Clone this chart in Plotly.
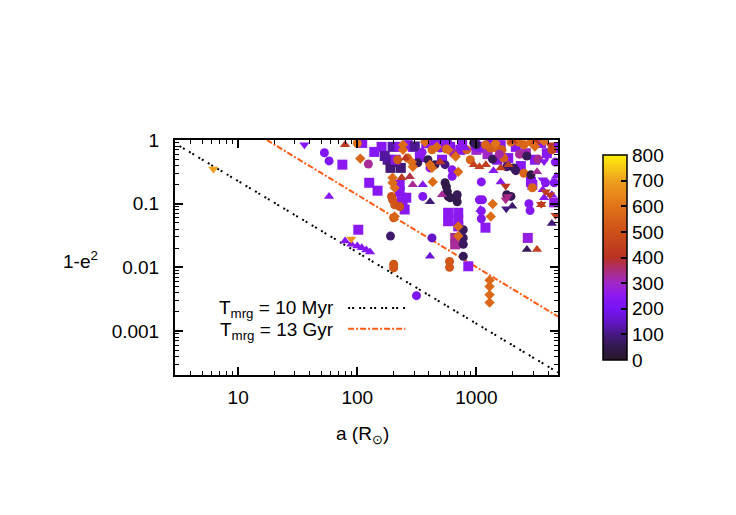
import plotly.graph_objects as go

# ---------------- data ----------------
# squares
sq_a = [110, 139, 160, 180, 194, 198, 227, 265, 293, 304, 380, 477, 126, 148, 227, 227, 236, 240, 250, 258,
        232, 190, 579, 579, 704, 704, 704, 664, 664, 855, 102, 75, 1000, 1140, 981, 1081, 1598, 2142, 3100,
        2870, 2950, 1192, 2700, 4500, 4672, 1500, 1850, 2361, 515, 602, 732, 335, 210, 760, 1314, 3486,
        420, 560, 2600, 3900, 170, 1240]
sq_y = [0.9, 0.65, 0.78, 0.49, 0.45, 0.78, 0.78, 0.83, 0.78, 0.79, 0.89, 0.97, 0.213, 0.16, 0.198, 0.154, 0.124,
        0.107, 0.081, 0.124, 0.365, 0.365, 0.072, 0.053, 0.072, 0.056, 0.044, 0.029, 0.023, 0.0104, 0.039, 0.41,
        0.70, 0.75, 0.83, 0.78, 0.83, 0.78, 0.49, 0.22, 0.198, 0.042, 0.029, 0.105, 0.75, 0.49, 0.52, 0.39, 0.49,
        0.78, 0.70, 0.54, 0.49, 0.93, 0.93, 0.9,
        0.97, 0.95, 0.62, 0.62, 0.56, 0.6]
sq_c = [240, 230, 240, 120, 110, 130, 240, 250, 240, 110, 240, 250, 240, 240, 240, 240, 240, 250, 240, 240,
        90, 90, 250, 250, 250, 250, 250, 330, 330, 250, 250, 250, 300, 300, 240, 240, 250, 240, 250,
        250, 250, 250, 270, 260, 250, 230, 240, 240, 240, 240, 240, 240, 240, 250, 240, 240,
        240, 250, 310, 240, 120, 300]

# circles
ci_a = [53, 58, 100, 124, 218, 265, 424, 496, 560, 449, 626, 626, 546, 560, 570, 579, 602, 680, 690, 690,
        355, 194, 198, 206, 202, 227, 190, 202, 202, 314, 424, 595, 595, 776, 776, 776, 776, 1100, 1100,
        1060, 1124, 1100, 2760, 2820, 3800, 4500, 950, 1000, 1314, 1480, 1640, 1694, 1950, 2271, 2503, 2870,
        1367, 1796, 2060, 2142, 2503, 2870, 2950, 1796, 1950, 4300, 4600, 1192, 830, 889, 322, 392, 408, 546,
        2300, 2650, 3300, 1560, 640, 350]
ci_y = [0.63, 0.47, 0.89, 0.42, 0.49, 0.52, 0.70, 0.75, 0.72, 0.41, 0.34, 0.27, 0.213, 0.185, 0.154, 0.13,
        0.124, 0.124, 0.107, 0.138, 0.13, 0.13, 0.115, 0.096, 0.06, 0.09, 0.031, 0.0112, 0.0098, 0.0036, 0.029,
        0.0124, 0.0100, 0.0149, 0.039, 0.029, 0.023, 0.058, 0.077, 0.115, 0.115, 0.22, 0.1, 0.078, 0.213,
        0.213, 0.9, 0.84, 0.75, 0.75, 0.70, 0.52, 0.93, 0.93, 0.84, 0.93, 0.5, 0.38, 0.365, 0.33, 0.3,
        0.284, 0.178, 0.138, 0.13, 0.70, 0.45, 0.84, 0.70, 0.49, 0.44, 0.49, 0.365, 0.41,
        0.6, 0.56, 0.5, 0.6, 0.62, 0.64]
ci_c = [220, 220, 600, 330, 520, 540, 560, 240, 570, 60, 240, 230, 50, 40, 50, 40, 50, 60, 50, 60,
        220, 500, 510, 520, 520, 500, 80, 520, 520, 220, 150, 520, 520, 60, 70, 70, 70, 230, 230,
        230, 230, 230, 230, 230, 230, 230, 60, 70, 540, 550, 530, 540, 580, 570, 560, 580,
        60, 80, 60, 70, 560, 40, 560, 50, 60, 470, 230, 560, 540, 560, 60, 60, 240, 100,
        330, 60, 340, 320, 330, 250]

# triangles (up)
tu_a = [79, 58, 79, 89, 100, 109, 119, 128, 255, 236, 276, 292, 355, 408, 515, 496, 408, 950, 1060, 1200,
        1390, 1598, 1860, 1080, 2000, 2654, 3227, 4300, 3227, 4672, 3600, 3700, 4300, 579, 807, 1598, 3500,
        2020, 3150]
tu_y = [0.84, 0.13, 0.026, 0.023, 0.0217, 0.0203, 0.0187, 0.0175, 0.52, 0.255, 0.265, 0.198, 0.198, 0.107,
        0.138, 0.45, 0.0149, 0.41, 0.38, 0.41, 0.33, 0.365, 0.41, 0.081, 0.091, 0.019, 0.019, 0.049, 0.316,
        0.27, 0.166, 0.124, 0.138, 0.97, 0.75, 0.22, 0.096, 0.96, 0.94]
tu_c = [420, 240, 230, 230, 230, 230, 230, 230, 420, 420, 380, 330, 230, 90, 330, 420, 170, 450, 450, 440,
        240, 450, 450, 230, 80, 60, 450, 90, 330, 240, 240, 240, 240, 240, 240, 240, 450,
        440, 430]

# triangles (down)
td_a = [6.2, 36, 89, 1780, 1760, 1830, 1760, 3500, 4620, 3800, 4150, 3900, 3700, 3600, 4150]
td_y = [0.35, 0.84, 0.028, 0.083, 0.115, 0.13, 0.19, 0.098, 0.066, 0.154, 0.138, 0.55, 0.46, 0.237, 0.84]
td_c = [700, 230, 680, 100, 340, 340, 420, 430, 450, 430, 420, 240, 240, 240, 430]

# diamonds
di_a = [106, 242, 242, 287, 293, 198, 198, 206, 408, 424, 430, 670, 704, 206, 704, 704, 1290, 1290, 1290,
        1290, 1320, 1370, 1449, 3100, 3700, 580, 465, 370]
di_y = [0.51, 0.84, 0.7, 0.45, 0.38, 0.255, 0.213, 0.178, 0.41, 0.365, 0.22, 0.55, 0.316, 0.063, 0.044,
        0.031, 0.0063, 0.005, 0.0037, 0.0028, 0.063, 0.099, 0.89, 0.79, 0.96, 0.70, 0.78, 0.93]
di_c = [560, 580, 580, 580, 580, 580, 580, 580, 580, 580, 580, 580, 570, 560, 570, 570, 570, 570, 570,
        570, 580, 580, 600, 580, 590, 580, 570, 580]

# merger-time lines (end points)
myr10_a = [3.22, 4840]
myr10_y = [0.805, 0.000224]
gyr13_a = [17.4, 4860]
gyr13_y = [1.0, 0.00168]

cbar_ticks = [0, 100, 200, 300, 400, 500, 600, 700, 800]
x_ticks = [10, 100, 1000]
y_ticks = [1, 0.1, 0.01, 0.001]
y_ticklabels = ["1", "0.1", "0.01", "0.001"]

# ---------------- figure ----------------
FONT = "Liberation Sans"
FS = 19
BLACK_DASH = "2px,2px,2px,5px"
ORANGE_DASH = "6px,2px,2px,2px"
ORANGE = "rgb(255,90,20)"
cscale = [
    [0.0, "rgb(40,25,40)"],
    [0.0625, "rgb(50,25,75)"],
    [0.125, "rgb(70,25,130)"],
    [0.1875, "rgb(100,20,200)"],
    [0.25, "rgb(120,20,245)"],
    [0.3125, "rgb(140,25,240)"],
    [0.375, "rgb(160,40,200)"],
    [0.4375, "rgb(172,45,120)"],
    [0.5, "rgb(185,50,35)"],
    [0.625, "rgb(205,80,25)"],
    [0.75, "rgb(225,115,25)"],
    [0.875, "rgb(238,160,30)"],
    [1.0, "rgb(255,240,10)"],
]

fig = go.Figure()

fig.add_trace(go.Scatter(x=myr10_a, y=myr10_y, mode="lines",
                         line=dict(color="black", width=2, dash=BLACK_DASH), showlegend=False))
fig.add_trace(go.Scatter(x=gyr13_a, y=gyr13_y, mode="lines",
                         line=dict(color=ORANGE, width=2, dash=ORANGE_DASH), showlegend=False))

for xs, ys, cs, sym, sz in [
    (sq_a, sq_y, sq_c, "square", 10),
    (ci_a, ci_y, ci_c, "circle", 9),
    (tu_a, tu_y, tu_c, "triangle-up", 9),
    (td_a, td_y, td_c, "triangle-down", 9),
    (di_a, di_y, di_c, "diamond", 8),
]:
    fig.add_trace(go.Scatter(x=xs, y=ys, mode="markers", showlegend=False,
                             marker=dict(symbol=sym, size=sz, color=cs, coloraxis="coloraxis",
                                         line=dict(width=0))))

minor_x = [v * 10 ** k for k in range(0, 4) for v in range(2, 10) if 2.9 < v * 10 ** k < 4900]
minor_y = [v * 10.0 ** k for k in range(-4, 0) for v in range(2, 10)]

axis_common = dict(showline=True, linewidth=2, linecolor="black", mirror="allticks", ticks="inside",
                   ticklen=8, tickwidth=1.5, tickcolor="black", showgrid=False, zeroline=False,
                   tickfont=dict(family=FONT, size=FS, color="black"))

fig.update_layout(
    width=736, height=515,
    margin=dict(l=167, r=186, t=132, b=148),
    paper_bgcolor="white", plot_bgcolor="white",
    font=dict(family=FONT, size=FS, color="black"),
    xaxis=dict(type="log", range=[0.47, 3.685], tickvals=x_ticks, ticktext=[str(v) for v in x_ticks],
               ticklabelstandoff=4,
               minor=dict(tickvals=minor_x, ticks="inside", ticklen=4, tickwidth=1, tickcolor="black"),
               **axis_common),
    yaxis=dict(type="log", range=[-3.69, 0], tickvals=y_ticks, ticktext=y_ticklabels,
               ticklabelstandoff=10,
               minor=dict(tickvals=minor_y, ticks="inside", ticklen=4, tickwidth=1, tickcolor="black"),
               **axis_common),
    coloraxis=dict(
        cmin=0, cmax=800, colorscale=cscale,
        colorbar=dict(x=1.1175, xanchor="left", y=0.5, yanchor="middle", len=0.872, lenmode="fraction",
                      thickness=24, outlinewidth=1.5, outlinecolor="black", ticks="inside", ticklen=6,
                      tickcolor="black", tickwidth=1.5, tickvals=cbar_ticks,
                      tickfont=dict(family=FONT, size=FS, color="black"), xpad=0, ypad=0),
    ),
    annotations=[
        dict(text="1-e<sup>2</sup>", x=-0.248, y=0.49, xref="paper", yref="paper", showarrow=False,
             xanchor="center", yanchor="middle", font=dict(family=FONT, size=FS)),
        dict(text="a (R<sub>⊙</sub>)", x=0.49, y=-0.255, xref="paper", yref="paper", showarrow=False,
             xanchor="center", yanchor="middle", font=dict(family=FONT, size=FS)),
        dict(text="T<sub>mrg</sub> = 10 Myr", x=0.42, y=0.282, xref="paper", yref="paper", showarrow=False,
             xanchor="right", yanchor="middle", font=dict(family=FONT, size=19)),
        dict(text="T<sub>mrg</sub> = 13 Gyr", x=0.42, y=0.186, xref="paper", yref="paper", showarrow=False,
             xanchor="right", yanchor="middle", font=dict(family=FONT, size=19)),
    ],
    shapes=[
        dict(type="line", xref="paper", yref="paper", x0=0.452, x1=0.601, y0=0.285, y1=0.285,
             line=dict(color="black", width=2, dash=BLACK_DASH)),
        dict(type="line", xref="paper", yref="paper", x0=0.452, x1=0.601, y0=0.197, y1=0.197,
             line=dict(color=ORANGE, width=2, dash=ORANGE_DASH)),
    ],
)

fig.write_html("out.html")
